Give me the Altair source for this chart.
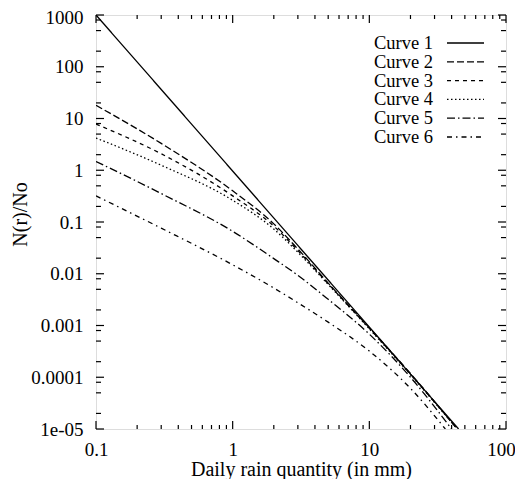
import altair as alt
import pandas as pd

# ---- data ----
curve_names = ["Curve 1", "Curve 2", "Curve 3", "Curve 4", "Curve 5", "Curve 6"]

curve1_x = [0.1, 45]
curve1_y = [1000, 1e-5]

common_x = [0.1, 0.3, 1, 2, 3, 5, 10, 20]
curve2_x = common_x + [44]
curve2_y = [18, 3.3, 0.40, 0.092, 0.030, 0.0066, 0.0009, 0.000118, 1e-5]
curve3_x = common_x + [44]
curve3_y = [7.8, 2.08, 0.32, 0.083, 0.028, 0.0064, 0.00088, 0.000115, 1e-5]
curve4_x = common_x + [44]
curve4_y = [4.2, 1.25, 0.263, 0.073, 0.026, 0.0062, 0.00086, 0.000112, 1e-5]
curve5_x = common_x + [40]
curve5_y = [1.48, 0.355, 0.066, 0.0196, 0.0093, 0.0032, 0.00068, 0.0001, 1e-5]
curve6_x = common_x + [36]
curve6_y = [0.32, 0.076, 0.0149, 0.0053, 0.00275, 0.00116, 0.00032, 0.000061, 1e-5]

x_tick_labels = [0.1, 1, 10, 100]
y_tick_labels = [1e-5, 1e-4, 1e-3, 1e-2, 0.1, 1, 10, 100, 1000]
x_minor = [k * d for d in (0.1, 1, 10) for k in range(2, 10)]
y_minor = [k * d for d in (1e-5, 1e-4, 1e-3, 1e-2, 0.1, 1, 10, 100) for k in (2, 5, 8)]

dashes = [[1, 0], [7, 3], [4, 4], [1.5, 2.5], [8, 3, 1.5, 3], [5, 4, 1.5, 4]]

rows = []
for name, xs, ys in zip(curve_names,
                        [curve1_x, curve2_x, curve3_x, curve4_x, curve5_x, curve6_x],
                        [curve1_y, curve2_y, curve3_y, curve4_y, curve5_y, curve6_y]):
    for i, (xv, yv) in enumerate(zip(xs, ys)):
        rows.append({"curve": name, "x": xv, "y": yv, "order": i})
df = pd.DataFrame(rows)
leg = pd.DataFrame({"curve": curve_names})

W, H = 410, 414
FONT = "Liberation Serif"

xscale = alt.Scale(type="log", domain=[0.1, 100], nice=False)
yscale = alt.Scale(type="log", domain=[1e-5, 1000], nice=False)
dash_scale = alt.Scale(domain=curve_names, range=dashes)

x_axis = alt.Axis(
    title="Daily rain quantity (in mm)", values=x_tick_labels, format="~g",
    ticks=False, domain=False, grid=False, labelFlush=False, labelOverlap=False,
    labelFont=FONT, labelFontSize=19, labelColor="black", labelPadding=11,
    labelOffset={"condition": {"test": "datum.value >= 100", "value": -5}, "value": 0},
    titleFont=FONT, titleFontSize=20, titleFontWeight="normal", titleColor="black",
    titleX=W / 2, titleY=40, titleBaseline="middle", titleAnchor="middle")

lines = alt.Chart(df).mark_line(color="black", strokeWidth=1.3, clip=True,
                                interpolate="monotone").encode(
    x=alt.X("x:Q", scale=xscale, axis=x_axis),
    y=alt.Y("y:Q", scale=yscale, axis=alt.Axis(
        title="N(r)/No", values=y_tick_labels,
        labelExpr="datum.value < 0.00005 ? '1e-05' : format(datum.value, '~g')",
        labelOffset={"condition": {"test": "datum.value >= 1000", "value": 2.5}, "value": 0},
        ticks=False, domain=False, grid=False, labelFlush=False, labelOverlap=False,
        labelFont=FONT, labelFontSize=19, labelColor="black", labelPadding=13,
        titleFont=FONT, titleFontSize=20, titleFontWeight="normal", titleColor="black",
        titleX=-76, titleY=199, titleAngle=270, titleBaseline="middle",
        titleAlign="center")),
    strokeDash=alt.StrokeDash("curve:N", scale=dash_scale, legend=None),
    detail="curve:N",
    order="order:Q",
)

leg_y = alt.Y("curve:N", scale=alt.Scale(type="point", domain=curve_names,
                                         range=[28, 122], padding=0), axis=None)
leg_text = alt.Chart(leg).mark_text(align="right", baseline="middle", font=FONT,
                                    fontSize=18.5, color="black").encode(
    x=alt.value(337), y=leg_y, text="curve:N")
leg_rule = alt.Chart(leg).mark_rule(color="black", strokeWidth=1.3).encode(
    x=alt.value(351), x2=alt.value(388), y=leg_y,
    strokeDash=alt.StrokeDash("curve:N", scale=dash_scale, legend=None))


def xticks(vals, length):
    d = pd.DataFrame({"v": vals})
    bot = alt.Chart(d).mark_rule(color="black", strokeWidth=1.2).encode(
        x=alt.X("v:Q", scale=xscale, axis=x_axis), y=alt.value(H), y2=alt.value(H - length))
    top = alt.Chart(d).mark_rule(color="black", strokeWidth=1.2).encode(
        x=alt.X("v:Q", scale=xscale, axis=x_axis), y=alt.value(0), y2=alt.value(length))
    return [bot, top]


def yticks(vals, length):
    d = pd.DataFrame({"v": vals})
    left = alt.Chart(d).mark_rule(color="black", strokeWidth=1.2).encode(
        y=alt.Y("v:Q", scale=yscale, axis=None), x=alt.value(0), x2=alt.value(length))
    right = alt.Chart(d).mark_rule(color="black", strokeWidth=1.2).encode(
        y=alt.Y("v:Q", scale=yscale, axis=None), x=alt.value(W), x2=alt.value(W - length))
    return [left, right]


tick_layers = (xticks(x_tick_labels, 8) + xticks(x_minor, 4)
               + yticks(y_tick_labels, 8) + yticks(y_minor, 5))

chart = alt.layer(lines, leg_text, leg_rule, *tick_layers).resolve_scale(
    y="independent"
).properties(
    width=W, height=H,
    autosize=alt.AutoSizeParams(type="none"),
    padding={"left": 88, "top": 7, "right": 9, "bottom": 50},
).configure_view(stroke="black", strokeWidth=1.5).configure(background="white")

chart.save("out.html", embed_options={"renderer": "svg", "actions": False})
